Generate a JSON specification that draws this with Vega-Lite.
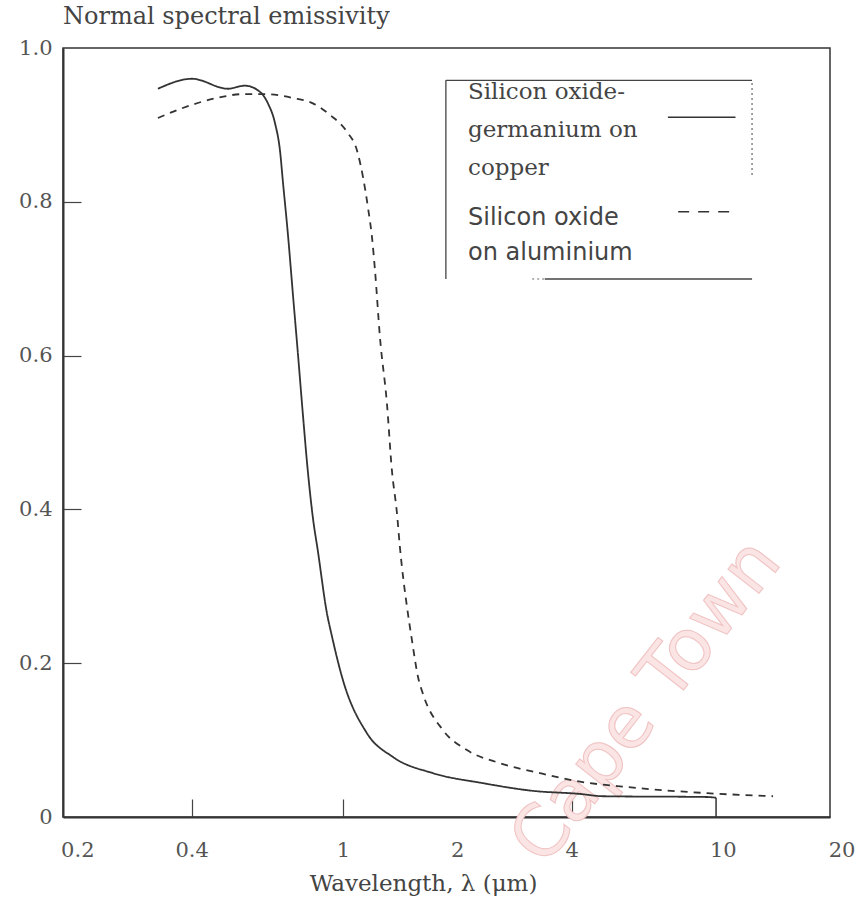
{
  "$schema": "https://vega.github.io/schema/vega-lite/v6.json",
  "autosize": {"type": "none"},
  "padding": {"left": 63, "top": 48, "right": 26, "bottom": 83},
  "width": 767,
  "height": 769,
  "background": "white",
  "title": {
    "text": "Normal spectral emissivity",
    "anchor": "start",
    "frame": "group",
    "offset": 8,
    "font": "DejaVu Serif",
    "fontSize": 24,
    "fontWeight": "normal",
    "color": "#444"
  },
  "config": {
    "view": {"stroke": "#333", "strokeWidth": 1.5},
    "axis": {
      "grid": false,
      "domainColor": "#333",
      "domainWidth": 2,
      "tickColor": "#444",
      "tickWidth": 1.2,
      "labelFont": "DejaVu Serif",
      "labelFontSize": 21,
      "labelColor": "#555",
      "titleFont": "DejaVu Serif",
      "titleFontSize": 23,
      "titleFontWeight": "normal",
      "titleColor": "#444"
    }
  },
  "datasets": {
    "curves": [
      {"series": "Silicon oxide-germanium on copper", "wl": 0.326, "e": 0.947},
      {"series": "Silicon oxide-germanium on copper", "wl": 0.401, "e": 0.960},
      {"series": "Silicon oxide-germanium on copper", "wl": 0.498, "e": 0.947},
      {"series": "Silicon oxide-germanium on copper", "wl": 0.552, "e": 0.951},
      {"series": "Silicon oxide-germanium on copper", "wl": 0.605, "e": 0.943},
      {"series": "Silicon oxide-germanium on copper", "wl": 0.635, "e": 0.928},
      {"series": "Silicon oxide-germanium on copper", "wl": 0.663, "e": 0.902},
      {"series": "Silicon oxide-germanium on copper", "wl": 0.683, "e": 0.867},
      {"series": "Silicon oxide-germanium on copper", "wl": 0.696, "e": 0.824},
      {"series": "Silicon oxide-germanium on copper", "wl": 0.717, "e": 0.757},
      {"series": "Silicon oxide-germanium on copper", "wl": 0.739, "e": 0.679},
      {"series": "Silicon oxide-germanium on copper", "wl": 0.762, "e": 0.601},
      {"series": "Silicon oxide-germanium on copper", "wl": 0.785, "e": 0.523},
      {"series": "Silicon oxide-germanium on copper", "wl": 0.809, "e": 0.449},
      {"series": "Silicon oxide-germanium on copper", "wl": 0.834, "e": 0.389},
      {"series": "Silicon oxide-germanium on copper", "wl": 0.860, "e": 0.345},
      {"series": "Silicon oxide-germanium on copper", "wl": 0.908, "e": 0.265},
      {"series": "Silicon oxide-germanium on copper", "wl": 0.936, "e": 0.235},
      {"series": "Silicon oxide-germanium on copper", "wl": 0.995, "e": 0.182},
      {"series": "Silicon oxide-germanium on copper", "wl": 1.157, "e": 0.109},
      {"series": "Silicon oxide-germanium on copper", "wl": 1.355, "e": 0.078},
      {"series": "Silicon oxide-germanium on copper", "wl": 1.727, "e": 0.057},
      {"series": "Silicon oxide-germanium on copper", "wl": 2.338, "e": 0.044},
      {"series": "Silicon oxide-germanium on copper", "wl": 3.166, "e": 0.034},
      {"series": "Silicon oxide-germanium on copper", "wl": 4.208, "e": 0.030},
      {"series": "Silicon oxide-germanium on copper", "wl": 4.838, "e": 0.027},
      {"series": "Silicon oxide-germanium on copper", "wl": 9.09, "e": 0.026},
      {"series": "Silicon oxide-germanium on copper", "wl": 9.6, "e": 0.025},
      {"series": "Silicon oxide on aluminium", "wl": 0.326, "e": 0.909},
      {"series": "Silicon oxide on aluminium", "wl": 0.379, "e": 0.922},
      {"series": "Silicon oxide on aluminium", "wl": 0.466, "e": 0.935},
      {"series": "Silicon oxide on aluminium", "wl": 0.546, "e": 0.940},
      {"series": "Silicon oxide on aluminium", "wl": 0.631, "e": 0.940},
      {"series": "Silicon oxide on aluminium", "wl": 0.739, "e": 0.935},
      {"series": "Silicon oxide on aluminium", "wl": 0.834, "e": 0.928},
      {"series": "Silicon oxide on aluminium", "wl": 0.925, "e": 0.913},
      {"series": "Silicon oxide on aluminium", "wl": 1.025, "e": 0.891},
      {"series": "Silicon oxide on aluminium", "wl": 1.089, "e": 0.867},
      {"series": "Silicon oxide on aluminium", "wl": 1.130, "e": 0.832},
      {"series": "Silicon oxide on aluminium", "wl": 1.164, "e": 0.793},
      {"series": "Silicon oxide on aluminium", "wl": 1.193, "e": 0.754},
      {"series": "Silicon oxide on aluminium", "wl": 1.215, "e": 0.711},
      {"series": "Silicon oxide on aluminium", "wl": 1.252, "e": 0.624},
      {"series": "Silicon oxide on aluminium", "wl": 1.306, "e": 0.538},
      {"series": "Silicon oxide on aluminium", "wl": 1.346, "e": 0.451},
      {"series": "Silicon oxide on aluminium", "wl": 1.388, "e": 0.395},
      {"series": "Silicon oxide on aluminium", "wl": 1.413, "e": 0.351},
      {"series": "Silicon oxide on aluminium", "wl": 1.483, "e": 0.265},
      {"series": "Silicon oxide on aluminium", "wl": 1.520, "e": 0.230},
      {"series": "Silicon oxide on aluminium", "wl": 1.577, "e": 0.182},
      {"series": "Silicon oxide on aluminium", "wl": 1.625, "e": 0.160},
      {"series": "Silicon oxide on aluminium", "wl": 1.834, "e": 0.113},
      {"series": "Silicon oxide on aluminium", "wl": 2.121, "e": 0.087},
      {"series": "Silicon oxide on aluminium", "wl": 2.592, "e": 0.070},
      {"series": "Silicon oxide on aluminium", "wl": 3.303, "e": 0.057},
      {"series": "Silicon oxide on aluminium", "wl": 4.208, "e": 0.046},
      {"series": "Silicon oxide on aluminium", "wl": 5.595, "e": 0.039},
      {"series": "Silicon oxide on aluminium", "wl": 9.09, "e": 0.031},
      {"series": "Silicon oxide on aluminium", "wl": 13.56, "e": 0.027}
    ],
    "tailDrop": [
      {"wl": 9.6, "e": 0.025, "e2": 0}
    ],
    "legendText": [
      {"group": "a", "wl": 2.135, "e": 0.934, "label": "Silicon oxide-"},
      {"group": "a", "wl": 2.135, "e": 0.884, "label": "germanium on"},
      {"group": "a", "wl": 2.135, "e": 0.835, "label": "copper"},
      {"group": "b", "wl": 2.135, "e": 0.770, "label": "Silicon oxide"},
      {"group": "b", "wl": 2.135, "e": 0.724, "label": "on aluminium"}
    ],
    "legendSymbols": [
      {"series": "Silicon oxide-germanium on copper", "wl": 7.17, "wl2": 10.8, "e": 0.910},
      {"series": "Silicon oxide on aluminium", "wl": 7.63, "wl2": 10.8, "e": 0.787}
    ],
    "boxSolid": [
      {"wl": 1.867, "wl2": 1.867, "e": 0.6996, "e2": 0.958},
      {"wl": 1.867, "wl2": 11.94, "e": 0.958, "e2": 0.958},
      {"wl": 3.40, "wl2": 11.94, "e": 0.6996, "e2": 0.6996}
    ],
    "boxDotted": [
      {"wl": 11.94, "wl2": 11.94, "e": 0.835, "e2": 0.958},
      {"wl": 3.15, "wl2": 3.40, "e": 0.6996, "e2": 0.6996}
    ],
    "watermark": [
      {"wl": 6.3, "e": 0.15, "label": "Cape Town"}
    ]
  },
  "layer": [
    {
      "data": {"name": "watermark"},
      "mark": {"type": "text", "font": "DejaVu Sans", "fontSize": 72, "angle": -52, "fill": "#fae4e4", "stroke": "#f0c2c2", "strokeWidth": 1, "align": "center", "baseline": "middle"},
      "encoding": {
        "x": {"field": "wl", "type": "quantitative", "scale": {"type": "log", "domain": [0.1834, 19.15], "nice": false}},
        "y": {"field": "e", "type": "quantitative", "scale": {"domain": [0, 1], "nice": false, "zero": true}},
        "text": {"field": "label"}
      }
    },
    {
      "data": {"name": "curves"},
      "mark": {"type": "line", "color": "#333", "strokeWidth": 1.8, "interpolate": "monotone"},
      "encoding": {
        "x": {
          "field": "wl", "type": "quantitative",
          "scale": {"type": "log", "domain": [0.1834, 19.15], "nice": false},
          "axis": {
            "title": "Wavelength, λ (μm)",
            "values": [0.2, 0.4, 1, 2, 4, 10, 19.1],
            "labelExpr": "datum.value > 19 ? '20' : format(datum.value, '~g')",
            "tickSize": -18,
            "labelPadding": 40,
            "labelFlush": false,
            "labelOverlap": false,
            "labelOffset": {"condition": {"test": "datum.value > 19", "value": 12}, "value": 0},
            "tickOpacity": {"condition": {"test": "datum.value == 0.2 || datum.value == 2 || datum.value == 10 || datum.value > 19", "value": 0}, "value": 1},
            "titlePadding": 12,
            "titleX": 360
          }
        },
        "y": {
          "field": "e", "type": "quantitative",
          "scale": {"domain": [0, 1], "nice": false},
          "axis": {
            "title": null,
            "values": [0, 0.2, 0.4, 0.6, 0.8, 1],
            "labelExpr": "datum.value == 0 ? '0' : format(datum.value, '.1f')",
            "tickSize": -18,
            "labelPadding": 29,
            "labelFlush": false,
            "labelOverlap": false,
            "tickOpacity": {"condition": {"test": "datum.value == 0 || datum.value == 1", "value": 0}, "value": 1}
          }
        },
        "strokeDash": {
          "field": "series", "type": "nominal",
          "scale": {"domain": ["Silicon oxide-germanium on copper", "Silicon oxide on aluminium"], "range": [[1, 0], [7, 6]]},
          "legend": null
        }
      }
    },
    {
      "data": {"name": "tailDrop"},
      "mark": {"type": "rule", "color": "#333", "strokeWidth": 1.5},
      "encoding": {
        "x": {"field": "wl", "type": "quantitative"},
        "y": {"field": "e", "type": "quantitative"},
        "y2": {"field": "e2"}
      }
    },
    {
      "data": {"name": "boxSolid"},
      "mark": {"type": "rule", "color": "#444", "strokeWidth": 1.3},
      "encoding": {
        "x": {"field": "wl", "type": "quantitative"},
        "x2": {"field": "wl2"},
        "y": {"field": "e", "type": "quantitative"},
        "y2": {"field": "e2"}
      }
    },
    {
      "data": {"name": "boxDotted"},
      "mark": {"type": "rule", "color": "#666", "strokeWidth": 1.2, "strokeDash": [2, 3]},
      "encoding": {
        "x": {"field": "wl", "type": "quantitative"},
        "x2": {"field": "wl2"},
        "y": {"field": "e", "type": "quantitative"},
        "y2": {"field": "e2"}
      }
    },
    {
      "data": {"name": "legendSymbols"},
      "transform": [{"filter": "datum.series == 'Silicon oxide-germanium on copper'"}],
      "mark": {"type": "rule", "color": "#333", "strokeWidth": 1.6},
      "encoding": {
        "x": {"field": "wl", "type": "quantitative"},
        "x2": {"field": "wl2"},
        "y": {"field": "e", "type": "quantitative"}
      }
    },
    {
      "data": {"name": "legendSymbols"},
      "transform": [{"filter": "datum.series == 'Silicon oxide on aluminium'"}],
      "mark": {"type": "rule", "color": "#333", "strokeWidth": 1.5, "strokeDash": [11, 9]},
      "encoding": {
        "x": {"field": "wl", "type": "quantitative"},
        "x2": {"field": "wl2"},
        "y": {"field": "e", "type": "quantitative"}
      }
    },
    {
      "data": {"name": "legendText"},
      "transform": [{"filter": "datum.group == 'a'"}],
      "mark": {"type": "text", "font": "DejaVu Serif", "fontSize": 23, "color": "#444", "align": "left", "baseline": "alphabetic"},
      "encoding": {
        "x": {"field": "wl", "type": "quantitative"},
        "y": {"field": "e", "type": "quantitative"},
        "text": {"field": "label"}
      }
    },
    {
      "data": {"name": "legendText"},
      "transform": [{"filter": "datum.group == 'b'"}],
      "mark": {"type": "text", "font": "DejaVu Sans", "fontSize": 24, "color": "#444", "align": "left", "baseline": "alphabetic"},
      "encoding": {
        "x": {"field": "wl", "type": "quantitative"},
        "y": {"field": "e", "type": "quantitative"},
        "text": {"field": "label"}
      }
    }
  ]
}
